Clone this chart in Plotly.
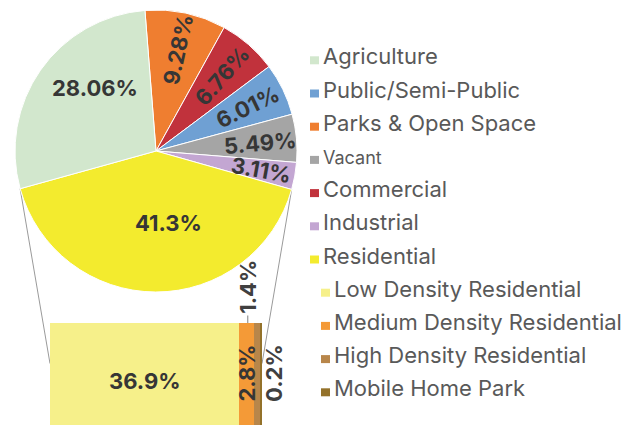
import math
import plotly.graph_objects as go

# page body has an 8px default margin: the figure is sized to fill the rest
OFF = 8
WIN_W, WIN_H = 629, 425
W, H = WIN_W - OFF, WIN_H - OFF

# ---------------- data ----------------
pie_labels = ["Parks & Open Space", "Commercial", "Public/Semi-Public", "Vacant",
              "Industrial", "Residential", "Agriculture"]
pie_values = [9.28, 6.76, 6.01, 5.49, 3.11, 41.3, 28.06]
pie_text = ["9.28%", "6.76%", "6.01%", "5.49%", "3.11%", "41.3%", "28.06%"]

bar_labels = ["Low Density Residential", "Medium Density Residential",
              "High Density Residential", "Mobile Home Park"]
bar_values = [36.9, 2.8, 1.4, 0.2]
bar_text = ["36.9%", "2.8%", "1.4%", "0.2%"]

legend_labels = ["Agriculture", "Public/Semi-Public", "Parks & Open Space", "Vacant",
                 "Commercial", "Industrial", "Residential", "Low Density Residential",
                 "Medium Density Residential", "High Density Residential", "Mobile Home Park"]

# ---------------- style ----------------
colors = {
    "Agriculture": "#D2E7CD",
    "Parks & Open Space": "#EF7E30",
    "Commercial": "#C1323C",
    "Public/Semi-Public": "#6FA0D3",
    "Vacant": "#A5A5A5",
    "Industrial": "#C3A6D2",
    "Residential": "#F3EB2E",
    "Low Density Residential": "#F6F08A",
    "Medium Density Residential": "#F49A37",
    "High Density Residential": "#B8864A",
    "Mobile Home Park": "#94722A",
}
LABEL_FONT = "Inter"
TEXT_DARK = "#363636"
LEG_TEXT = "#595959"
LBL_SIZE = 22

# pie geometry (window pixels)
PCX, PCY, PR = 156, 151, 141
ROT = -4.5
label_place = {
    "Parks & Open Space": ("radial", 0.74, 0),
    "Commercial": ("radial", 0.71, 0),
    "Public/Semi-Public": ("radial", 0.72, 0),
    "Vacant": ("radial", 0.74, 1),
    "Industrial": ("radial", 0.76, 0),
    "Residential": ("flat", 0.52, -10),
    "Agriculture": ("flat", 0.62, 11),
}

def px2paper(x, y):
    return (x - OFF) / W, 1 - (y - OFF) / H

fig = go.Figure()

dx0, dy1 = px2paper(PCX - PR, PCY - PR)
dx1, dy0 = px2paper(PCX + PR, PCY + PR)
fig.add_trace(go.Pie(
    labels=pie_labels, values=pie_values, sort=False, direction="clockwise",
    rotation=ROT, textinfo="none", hoverinfo="label+percent",
    marker=dict(colors=[colors[l] for l in pie_labels], line=dict(color="white", width=1)),
    domain=dict(x=[dx0, dx1], y=[dy0, dy1]), showlegend=False,
))

annotations = []
shapes = []

total = sum(pie_values)
cum = 0
angles = []
for lab, val, txt in zip(pie_labels, pie_values, pie_text):
    a0 = ROT + cum / total * 360
    cum += val
    a1 = ROT + cum / total * 360
    angles.append((a0, a1))
    mode, rf, off = label_place[lab]
    mid = (a0 + a1) / 2
    am = math.radians(mid + off)
    x = PCX + rf * PR * math.sin(am)
    y = PCY - rf * PR * math.cos(am)
    xp, yp = px2paper(x, y)
    annotations.append(dict(
        x=xp, y=yp, xref="paper", yref="paper", text=txt, showarrow=False,
        textangle=(mid - 90) if mode == "radial" else 0,
        xanchor="center", yanchor="middle",
        font=dict(family=LABEL_FONT, size=LBL_SIZE, color=TEXT_DARK, weight=700),
    ))

# ---------------- bar of pie ----------------
bar_total = sum(bar_values)
BX0, BX1, BY0 = 50, 262, 323
for lab, val in zip(bar_labels, bar_values):
    fig.add_trace(go.Bar(
        x=[val], y=[0], orientation="h", name=lab, width=1,
        marker=dict(color=colors[lab], line=dict(width=0)), showlegend=False,
        hoverinfo="name+x",
    ))

YR = [-0.38, 0.5]
fig.update_layout(
    barmode="stack", bargap=0,
    xaxis=dict(domain=[(BX0 - OFF) / W, (BX1 - OFF) / W], range=[0, bar_total],
               visible=False, fixedrange=True),
    yaxis=dict(domain=[0, 1 - (BY0 - OFF) / H], range=YR, visible=False, fixedrange=True),
)

c = 0
mids = []
for v in bar_values:
    mids.append(c + v / 2)
    c += v
annotations.append(dict(x=mids[0], y=0, xref="x", yref="y", text=bar_text[0], showarrow=False,
                        font=dict(family=LABEL_FONT, size=LBL_SIZE, color=TEXT_DARK, weight=700)))
annotations.append(dict(x=mids[1], y=0, xref="x", yref="y", text=bar_text[1], showarrow=False,
                        textangle=-90, yshift=8,
                        font=dict(family=LABEL_FONT, size=LBL_SIZE, color=TEXT_DARK, weight=700)))
annotations.append(dict(x=bar_values[0] + bar_values[1], y=YR[1], xref="x", yref="y",
                        text=bar_text[2], textangle=-90, xshift=-6,
                        showarrow=True, arrowhead=0, arrowwidth=1, arrowcolor="#7f7f7f",
                        ax=0, ay=-36, standoff=0,
                        font=dict(family=LABEL_FONT, size=LBL_SIZE, color="#404040", weight=700)))
annotations.append(dict(x=bar_total, y=0, xref="x", yref="y", text=bar_text[3], showarrow=False,
                        textangle=-90, xshift=12, yshift=8,
                        font=dict(family=LABEL_FONT, size=LBL_SIZE, color="#404040", weight=700)))

# connector lines from the residential slice edges to the bar
res_i = pie_labels.index("Residential")
ra0, ra1 = angles[res_i]
ppx = lambda a: (PCX + PR * math.sin(math.radians(a)), PCY - PR * math.cos(math.radians(a)))
ypix_bar = BY0 + (YR[1] - 0.15) / (YR[1] - YR[0]) * (WIN_H - BY0)
for a, bx in ((ra1, BX0), (ra0, BX1)):
    sx, sy = ppx(a)
    x0, y0 = px2paper(sx, sy)
    x1, y1 = px2paper(bx, ypix_bar)
    shapes.append(dict(type="line", xref="paper", yref="paper", x0=x0, y0=y0, x1=x1, y1=y1,
                       line=dict(color="#9a9a9a", width=1), layer="below"))

# ---------------- custom legend ----------------
LEG_BASE0, LEG_STEP = 64.3, 33.2
sub_items = set(bar_labels)
for i, lab in enumerate(legend_labels):
    base = LEG_BASE0 + i * LEG_STEP
    indent = 11 if lab in sub_items else 0
    sx0 = 310 + indent
    size = 18 if lab == "Vacant" else 22
    a, b = px2paper(sx0, base - 8)
    a2, b2 = px2paper(sx0 + 9, base)
    shapes.append(dict(type="rect", xref="paper", yref="paper", x0=a, y0=b2, x1=a2, y1=b,
                       fillcolor=colors[lab], line=dict(width=0)))
    tx, ty = px2paper(sx0 + 11, base - 0.36 * size)
    annotations.append(dict(x=tx, y=ty, xref="paper", yref="paper", text=lab, showarrow=False,
                            xanchor="left", yanchor="middle",
                            font=dict(family=LABEL_FONT, size=size, color=LEG_TEXT)))

fig.update_layout(
    width=W, height=H, margin=dict(l=0, r=0, t=0, b=0),
    paper_bgcolor="white", plot_bgcolor="rgba(0,0,0,0)",
    annotations=annotations, shapes=shapes, showlegend=False,
)
fig.write_html("out.html")
